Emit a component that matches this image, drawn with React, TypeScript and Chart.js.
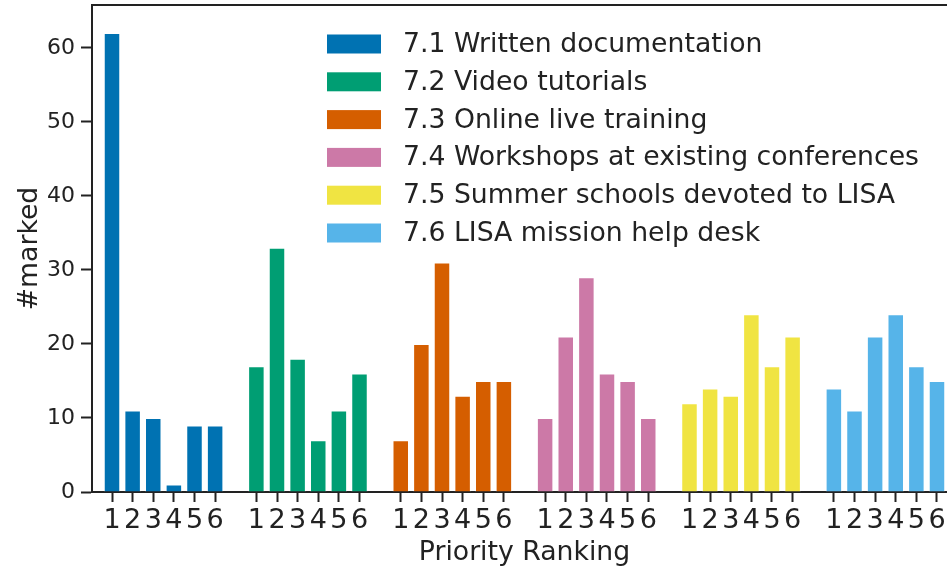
import React, { useEffect, useRef } from 'react';
import { Chart, registerables } from 'chart.js';

Chart.register(...registerables);

// ---- data ----
const rankLabels = ['1', '2', '3', '4', '5', '6'];
const seriesNames = [
  '7.1 Written documentation',
  '7.2 Video tutorials',
  '7.3 Online live training',
  '7.4 Workshops at existing conferences',
  '7.5 Summer schools devoted to LISA',
  '7.6 LISA mission help desk',
];
const writtenDocs = [62, 11, 10, 1, 9, 9];
const videoTutorials = [17, 33, 18, 7, 11, 16];
const onlineTraining = [7, 20, 31, 13, 15, 15];
const workshops = [10, 21, 29, 16, 15, 10];
const summerSchools = [12, 14, 13, 24, 17, 21];
const helpDesk = [14, 11, 21, 24, 17, 15];
const seriesValues = [writtenDocs, videoTutorials, onlineTraining, workshops, summerSchools, helpDesk];
const seriesColors = ['#0072B2', '#009E73', '#D55E00', '#CC79A7', '#F0E442', '#56B4E9'];
const yTicks = [0, 10, 20, 30, 40, 50, 60];

const SLOTS_PER_GROUP = rankLabels.length + 1;
const FONT = "'DejaVu Sans', sans-serif";
const INK = '#222222';

const tickPositions: number[] = [];
seriesValues.forEach((_, g) => rankLabels.forEach((__, i) => tickPositions.push(g * SLOTS_PER_GROUP + i)));

const topBorder = {
  id: 'topBorder',
  afterDraw(chart: any) {
    const { ctx, chartArea } = chart;
    ctx.save();
    ctx.strokeStyle = INK;
    ctx.lineWidth = 2;
    ctx.beginPath();
    ctx.moveTo(chartArea.left - 1, chartArea.top);
    ctx.lineTo(chartArea.right, chartArea.top);
    ctx.stroke();
    ctx.restore();
  },
};

const insideLegend = {
  id: 'insideLegend',
  afterDraw(chart: any) {
    const { ctx, chartArea } = chart;
    const x0 = chartArea.left + 235;
    const y0 = chartArea.top + 39;
    const rowH = 37.8;
    ctx.save();
    ctx.font = `26.7px ${FONT}`;
    ctx.textBaseline = 'middle';
    ctx.textAlign = 'left';
    chart.data.datasets.forEach((ds: any, i: number) => {
      const cy = y0 + i * rowH;
      ctx.fillStyle = ds.backgroundColor;
      ctx.fillRect(x0, cy - 9.5, 54, 19);
      ctx.fillStyle = INK;
      ctx.fillText(ds.label, x0 + 76, cy + 1);
    });
    ctx.restore();
  },
};

export default function App() {
  const ref = useRef<HTMLCanvasElement>(null);
  useEffect(() => {
    if (!ref.current) return;
    const chart = new Chart(ref.current, {
      type: 'bar',
      data: {
        datasets: seriesValues.map((vals, g) => ({
          label: seriesNames[g],
          data: vals.map((v, i) => ({ x: g * SLOTS_PER_GROUP + i, y: v })),
          backgroundColor: seriesColors[g],
          borderColor: 'rgba(255,255,255,0.5)',
          borderWidth: 1,
          grouped: false,
          barPercentage: 0.8,
          categoryPercentage: 1,
        })),
      },
      options: {
        animation: false,
        responsive: false,
        layout: { padding: { top: 5, right: 3, left: 0, bottom: 0 } },
        plugins: { legend: { display: false }, tooltip: { enabled: false } },
        scales: {
          x: {
            type: 'linear',
            offset: false,
            min: -0.97,
            max: 40.97,
            afterBuildTicks: (scale: any) => {
              scale.ticks = tickPositions.map((v) => ({ value: v }));
            },
            afterFit: (scale: any) => {
              scale.height = 77;
              scale.paddingLeft = 0;
              scale.paddingRight = 0;
            },
            ticks: {
              autoSkip: false,
              maxRotation: 0,
              minRotation: 0,
              padding: 3,
              color: INK,
              font: { family: FONT, size: 27 },
              callback: (v: any) => rankLabels[Math.round(v) % SLOTS_PER_GROUP],
            },
            grid: { offset: false, drawOnChartArea: false, drawTicks: true, tickLength: 10, tickWidth: 2, tickColor: INK },
            border: { color: INK, width: 2 },
            title: {
              display: true,
              text: 'Priority Ranking',
              color: INK,
              font: { family: FONT, size: 26.7 },
              padding: { top: 0, bottom: 0 },
            },
          },
          y: {
            min: 0,
            max: 65.8,
            afterBuildTicks: (scale: any) => {
              scale.ticks = yTicks.map((v) => ({ value: v }));
            },
            afterFit: (scale: any) => {
              scale.width = 92;
              scale.paddingTop = 0;
              scale.paddingBottom = 0;
            },
            ticks: {
              padding: 6,
              color: INK,
              font: { family: FONT, size: 22 },
            },
            grid: { drawOnChartArea: false, drawTicks: true, tickLength: 11, tickWidth: 2, tickColor: INK },
            border: { color: INK, width: 2 },
            title: {
              display: true,
              text: '#marked',
              color: INK,
              font: { family: FONT, size: 26.7 },
              padding: { top: 14, bottom: 0 },
            },
          },
        },
      },
      plugins: [topBorder, insideLegend],
    });
    return () => chart.destroy();
  }, []);

  return (
    <div style={{ position: 'fixed', left: 0, top: 0, width: 947, height: 569, overflow: 'hidden', background: '#fff' }}>
      <canvas ref={ref} width={960} height={569} style={{ display: 'block' }} />
    </div>
  );
}
